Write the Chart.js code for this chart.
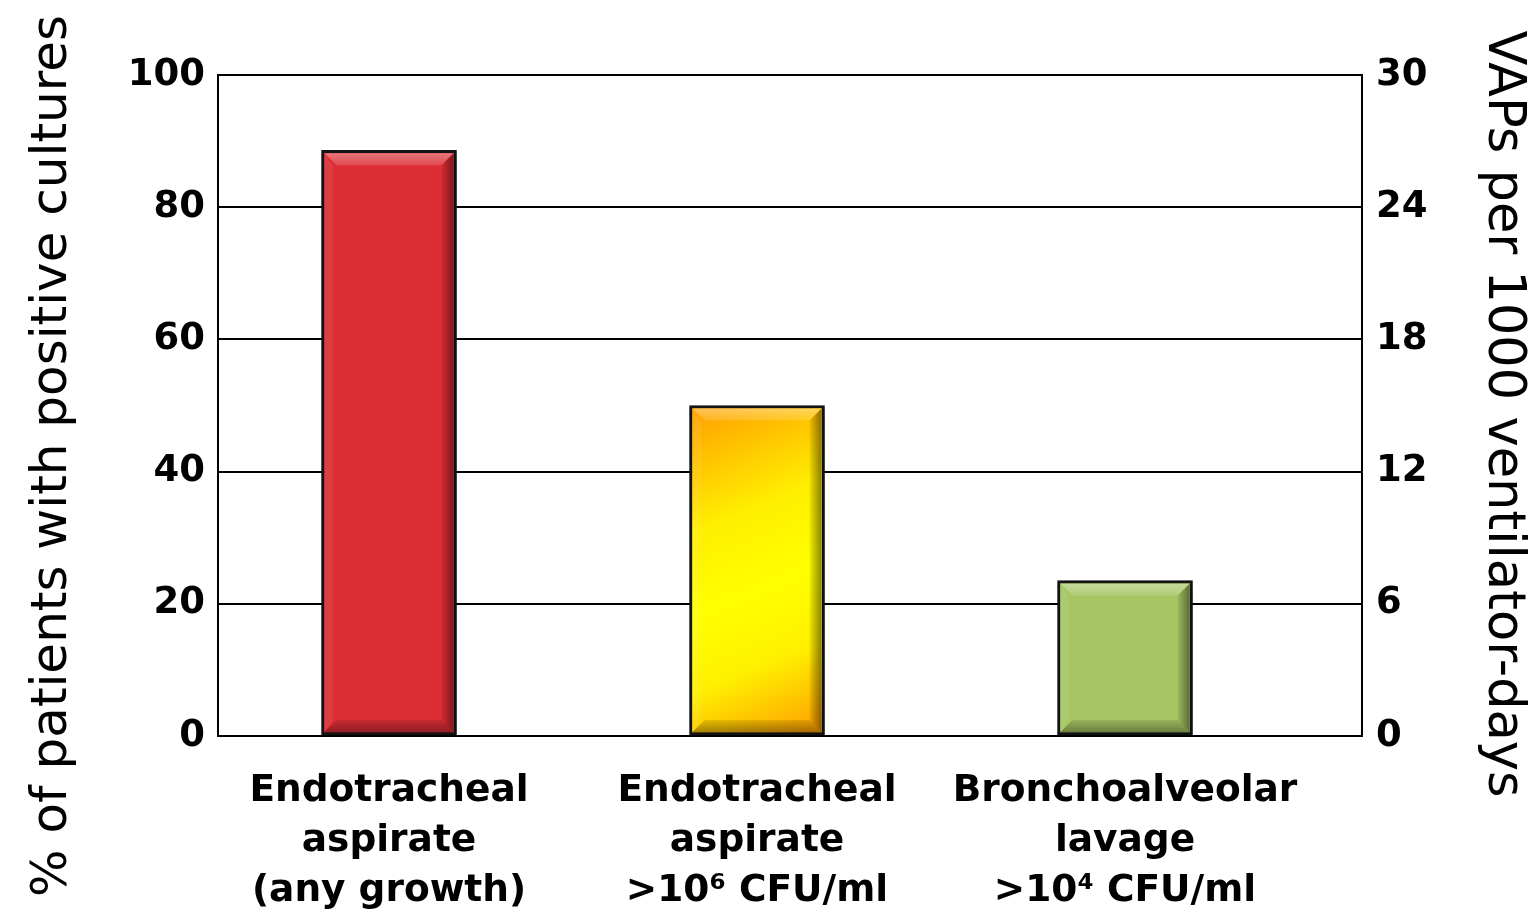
<!DOCTYPE html>
<html>
<head>
<meta charset="utf-8">
<script src="https://cdn.jsdelivr.net/npm/chart.js@4/dist/chart.umd.min.js"></script>
<style>
  html, body { margin: 0; padding: 0; background: #fff; }
  #wrap { width: 1532px; height: 912px; }
</style>
</head>
<body>
<div id="wrap"><canvas id="c" width="1532" height="912"></canvas></div>
<script>
// Culture positivity by sampling method
const categories = [
  ['Endotracheal', 'aspirate', '(any growth)'],
  ['Endotracheal', 'aspirate', '>10⁶ CFU/ml'],
  ['Bronchoalveolar', 'lavage', '>10⁴ CFU/ml']
];
const positivePct = [88.6, 50, 23.5];
const leftTicks = [0, 20, 40, 60, 80, 100];
const rightTicks = [0, 6, 12, 18, 24, 30];
const leftTitle = '% of patients with positive cultures';
const rightTitle = 'VAPs per 1000 ventilator-days';

// Styling
const BAR_PX = 135;
const barFills = ['#dd2e35', null, '#a6c663'];
const FONT = '"DejaVu Sans", Verdana, sans-serif';

function barFill(ctx) {
  if (ctx.type !== 'data') return '#dd2e35';
  const i = ctx.dataIndex;
  if (barFills[i]) return barFills[i];
  const chart = ctx.chart;
  const xs = chart.scales.x, ys = chart.scales.y;
  if (!xs || !ys || !chart.chartArea) return '#ffd800';
  const cx = xs.getPixelForValue(i);
  const l = cx - BAR_PX / 2, r = cx + BAR_PX / 2;
  const t = ys.getPixelForValue(positivePct[i]), b = ys.getPixelForValue(0);
  const g = chart.ctx.createLinearGradient(l, t, r, b);
  g.addColorStop(0, '#ff9d00');
  g.addColorStop(0.33, '#ffee00');
  g.addColorStop(0.55, '#ffff00');
  g.addColorStop(0.75, '#fff000');
  g.addColorStop(1, '#ff9a00');
  return g;
}

// Soft drop shadow under the bars
const barShadow = {
  id: 'barShadow',
  beforeDatasetDraw(chart) {
    const c = chart.ctx;
    c.save();
    c.shadowColor = 'rgba(0,0,0,0.35)';
    c.shadowBlur = 5;
    c.shadowOffsetX = 2;
    c.shadowOffsetY = 2;
  },
  afterDatasetDraw(chart) { chart.ctx.restore(); }
};

// Bevelled edges on each bar
const barBevel = {
  id: 'barBevel',
  afterDatasetsDraw(chart) {
    const c = chart.ctx;
    const meta = chart.getDatasetMeta(0);
    meta.data.forEach((bar) => {
      const p = bar.getProps(['x', 'y', 'base', 'width'], true);
      const bw = 3, s = 12;
      const l = p.x - p.width / 2 + bw, r = p.x + p.width / 2 - bw;
      const t = Math.min(p.y, p.base) + bw, b = Math.max(p.y, p.base) - bw;
      c.save();
      // top
      c.beginPath();
      c.moveTo(l, t); c.lineTo(r, t); c.lineTo(r - s, t + s); c.lineTo(l + s, t + s); c.closePath();
      let g = c.createLinearGradient(0, t, 0, t + s);
      g.addColorStop(0, 'rgba(255,255,255,0.35)');
      g.addColorStop(1, 'rgba(255,255,255,0.12)');
      c.fillStyle = g; c.fill();
      // left
      c.beginPath();
      c.moveTo(l, t); c.lineTo(l + s * 0.7, t + s); c.lineTo(l + s * 0.7, b - s); c.lineTo(l, b); c.closePath();
      c.fillStyle = 'rgba(255,255,255,0.07)'; c.fill();
      // right
      c.beginPath();
      c.moveTo(r, t); c.lineTo(r, b); c.lineTo(r - s, b - s); c.lineTo(r - s, t + s); c.closePath();
      g = c.createLinearGradient(r - s, 0, r, 0);
      g.addColorStop(0, 'rgba(0,0,0,0.06)');
      g.addColorStop(1, 'rgba(0,0,0,0.45)');
      c.fillStyle = g; c.fill();
      // bottom
      c.beginPath();
      c.moveTo(l, b); c.lineTo(r, b); c.lineTo(r - s, b - s); c.lineTo(l + s, b - s); c.closePath();
      g = c.createLinearGradient(0, b - s, 0, b);
      g.addColorStop(0, 'rgba(0,0,0,0.10)');
      g.addColorStop(1, 'rgba(0,0,0,0.35)');
      c.fillStyle = g; c.fill();
      c.restore();
    });
  }
};

// Axis titles, centred on the page height
const axisTitles = {
  id: 'axisTitles',
  afterDraw(chart) {
    const c = chart.ctx;
    c.save();
    c.fillStyle = '#000';
    c.textAlign = 'center';
    c.textBaseline = 'alphabetic';
    c.save();
    c.font = '50px ' + FONT;
    c.translate(66, 456);
    c.rotate(-Math.PI / 2);
    c.fillText(leftTitle, 0, 0);
    c.restore();
    c.save();
    c.font = '51px ' + FONT;
    c.translate(1489, 414);
    c.rotate(Math.PI / 2);
    c.fillText(rightTitle, 0, 0);
    c.restore();
    c.restore();
  }
};

const tickFont = { family: FONT, size: 37, weight: 'bold' };

new Chart(document.getElementById('c'), {
  type: 'bar',
  data: {
    datasets: [{
      data: positivePct.map((v, i) => ({ x: i, y: v })),
      backgroundColor: barFill,
      borderColor: '#151515',
      borderWidth: 3,
      borderSkipped: false,
      barThickness: BAR_PX,
      xAxisID: 'x',
      yAxisID: 'y'
    }]
  },
  options: {
    responsive: false,
    animation: false,
    devicePixelRatio: 1,
    layout: { padding: { top: 75, left: 0, right: 0, bottom: 0 } },
    plugins: { legend: { display: false }, tooltip: { enabled: false } },
    scales: {
      x: {
        type: 'linear',
        position: 'bottom',
        offset: false,
        min: -0.4647,
        max: 2.644,
        afterBuildTicks: (s) => { s.ticks = categories.map((_, i) => ({ value: i })); },
        afterFit: (s) => { s.height = 176; },
        grid: { display: false, drawTicks: false, offset: false },
        border: { display: true, color: '#000', width: 2 },
        ticks: {
          autoSkip: false,
          maxRotation: 0,
          minRotation: 0,
          padding: 30,
          color: '#000',
          font: { family: FONT, size: 37.5, weight: 'bold', lineHeight: 50 / 37.5 },
          callback: (v) => categories[v]
        }
      },
      y: {
        position: 'left',
        min: 0,
        max: 100,
        afterBuildTicks: (s) => { s.ticks = leftTicks.map((v) => ({ value: v })); },
        afterFit: (s) => { s.width = 218; },
        grid: { color: '#000', lineWidth: 2, drawTicks: false },
        border: { display: true, color: '#000', width: 2 },
        ticks: { padding: 13, color: '#000', font: tickFont }
      },
      y2: {
        position: 'right',
        min: 0,
        max: 30,
        afterBuildTicks: (s) => { s.ticks = rightTicks.map((v) => ({ value: v })); },
        afterFit: (s) => { s.width = 170; },
        grid: { display: false, drawTicks: false },
        border: { display: true, color: '#000', width: 2 },
        ticks: { padding: 14, color: '#000', font: tickFont }
      }
    }
  },
  plugins: [barShadow, barBevel, axisTitles]
});
</script>
</body>
</html>
